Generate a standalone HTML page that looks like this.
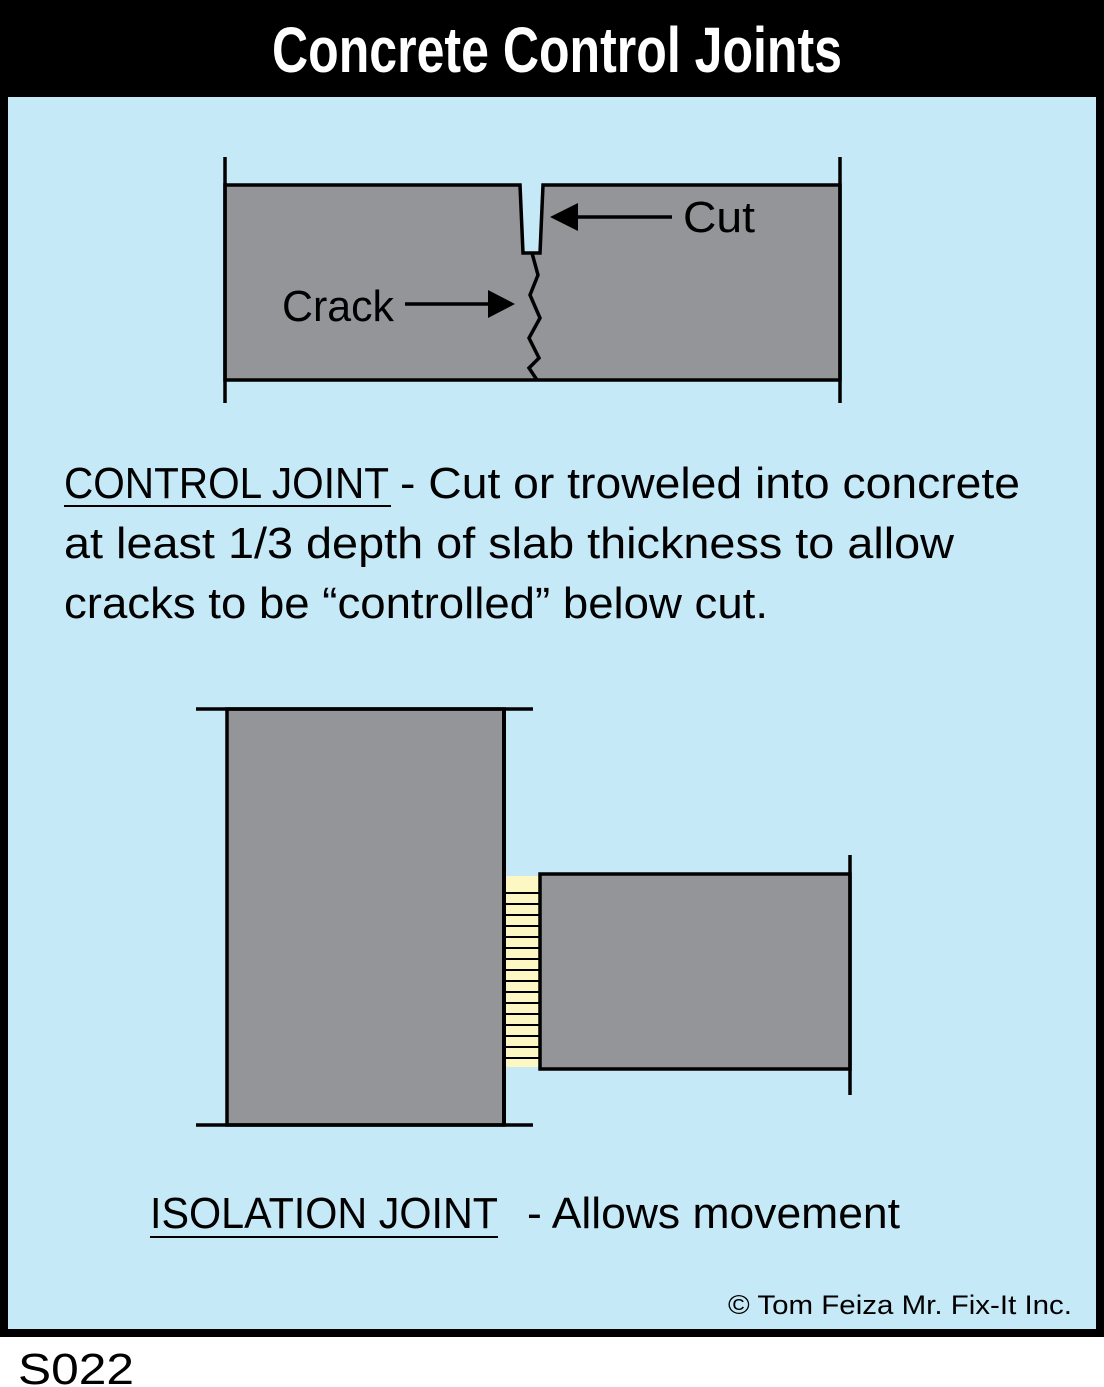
<!DOCTYPE html>
<html><head><meta charset="utf-8"><style>html,body{margin:0;padding:0;background:#fff}svg{display:block}</style></head>
<body>
<svg width="1104" height="1387" viewBox="0 0 1104 1387" xmlns="http://www.w3.org/2000/svg" font-family="Liberation Sans, sans-serif">
<rect x="0" y="0" width="1104" height="1387" fill="#fff"/>
<rect x="0" y="0" width="1104" height="95" fill="#000"/>
<rect x="4" y="93" width="1096" height="1240" fill="#c6e9f8" stroke="#000" stroke-width="8"/>
<text x="557" y="72" text-anchor="middle" font-family="Liberation Sans Narrow, Liberation Sans, sans-serif" font-weight="bold" font-size="64" fill="#fff" textLength="570" lengthAdjust="spacingAndGlyphs">Concrete Control Joints</text>

<path d="M225 185 H520 L523 253 H540 L543 185 H840 V380 H225 Z" fill="#939598" stroke="#000" stroke-width="3.5"/>
<path d="M532 253 L538 275 L530 295 L540 318 L529 338 L539 358 L529 368 L537 380" fill="none" stroke="#000" stroke-width="3.5"/>
<path d="M225 157 V403 M840 157 V403" stroke="#000" stroke-width="3.5"/>
<path d="M570 217 H672" stroke="#000" stroke-width="3.5"/>
<polygon points="550,217 578,203 578,231" fill="#000"/>
<text x="683" y="232" font-size="44" fill="#000" textLength="72" lengthAdjust="spacingAndGlyphs">Cut</text>
<path d="M405 304 H495" stroke="#000" stroke-width="3.5"/>
<polygon points="515,304 488,290 488,318" fill="#000"/>
<text x="282" y="321" font-size="44" fill="#000" textLength="112" lengthAdjust="spacingAndGlyphs">Crack</text>

<g font-size="44" fill="#000">
<text x="64" y="498" textLength="325" lengthAdjust="spacingAndGlyphs">CONTROL JOINT</text>
<text x="400" y="498" textLength="620" lengthAdjust="spacingAndGlyphs">- Cut or troweled into concrete</text>
<text x="64" y="558" textLength="890" lengthAdjust="spacingAndGlyphs">at least 1/3 depth of slab thickness to allow</text>
<text x="64" y="618" textLength="704" lengthAdjust="spacingAndGlyphs">cracks to be “controlled” below cut.</text>
</g>
<path d="M64 506 H391" stroke="#000" stroke-width="2"/>

<rect x="227" y="709" width="277" height="416" fill="#939598" stroke="#000" stroke-width="3.5"/>
<path d="M196 709 H533 M196 1125 H533" stroke="#000" stroke-width="3.5"/>
<rect x="506" y="876" width="33" height="191" fill="#fdf7c3"/>
<g stroke="#000" stroke-width="2">
<path d="M506 893H539M506 904H539M506 915H539M506 926H539M506 937H539M506 948H539M506 959H539M506 970H539M506 981H539M506 992H539M506 1003H539M506 1014H539M506 1025H539M506 1036H539M506 1047H539M506 1058H539"/>
</g>
<rect x="540" y="874" width="310" height="195" fill="#939598" stroke="#000" stroke-width="3.5"/>
<path d="M850 855 V1095" stroke="#000" stroke-width="3.5"/>
<path d="M504 709 V1125" stroke="#000" stroke-width="4"/>

<text x="150" y="1228" font-size="44" fill="#000" textLength="348" lengthAdjust="spacingAndGlyphs">ISOLATION JOINT</text>
<text x="527" y="1228" font-size="44" fill="#000" textLength="373" lengthAdjust="spacingAndGlyphs">- Allows movement</text>
<path d="M150 1237 H498" stroke="#000" stroke-width="2"/>

<text x="728" y="1314" font-size="27" fill="#000" textLength="344" lengthAdjust="spacingAndGlyphs">© Tom Feiza Mr. Fix-It Inc.</text>
<text x="18" y="1384" font-size="44" fill="#000" textLength="116" lengthAdjust="spacingAndGlyphs">S022</text>
</svg>
</body></html>
